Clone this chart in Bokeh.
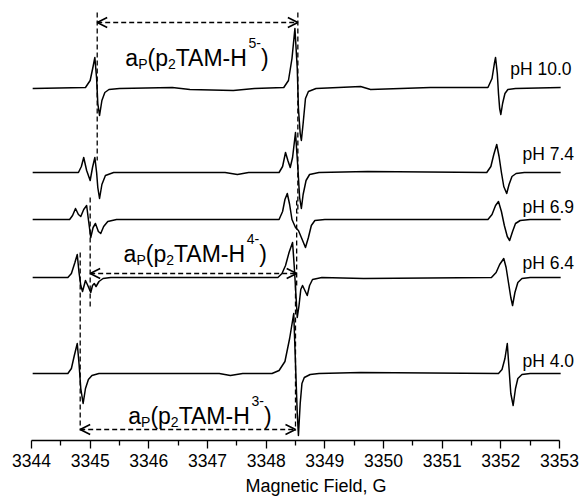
from bokeh.plotting import figure
from bokeh.models import Label, Arrow, OpenHead, Range1d, FixedTicker, Title
from bokeh.embed import file_html
from bokeh.resources import INLINE

# ---------------- data ----------------
tick_labels = ["3344", "3345", "3346", "3347", "3348", "3349", "3350", "3351", "3352", "3353"]
minor_ticks = [3344.5, 3345.5, 3346.5, 3347.5, 3348.5, 3349.5, 3350.5, 3351.5, 3352.5]
ph_labels = ["pH 10.0", "pH 7.4", "pH 6.9", "pH 6.4", "pH 4.0"]
x_title = "Magnetic Field, G"

field_ph100 = [3344.02, 3344.92, 3345.00, 3345.05, 3345.08, 3345.11, 3345.13, 3345.16, 3345.20, 3345.25, 3345.32, 3345.50,
               3346.40, 3346.70, 3347.44, 3347.80,
               3348.30, 3348.38, 3348.44, 3348.49, 3348.53, 3348.55, 3348.58, 3348.60, 3348.63, 3348.67, 3348.72, 3348.85,
               3349.61, 3349.78, 3350.80,
               3351.78, 3351.85, 3351.89, 3351.91, 3351.94, 3351.96, 3351.98, 3352.00, 3352.03, 3352.07, 3352.12, 3352.25, 3353.02]
sig_ph100 = [0, 1, 8, 22, 31, 10, -15, -27, -12, -4, -1, 0,
             1, -1, -2, 0,
             1, 8, 30, 60, 20, -20, -45, -52, -35, -10, -3, 0,
             2, -1, 1,
             1, 10, 25, 31, 15, -5, -20, -26, -15, -5, -1, 0, 1]

field_ph74 = [3344.02, 3344.80, 3344.85, 3344.89, 3344.94, 3345.00, 3345.04, 3345.08, 3345.11, 3345.13, 3345.16, 3345.20, 3345.26, 3345.40,
              3347.30, 3347.51, 3347.70,
              3348.22, 3348.28, 3348.33, 3348.37, 3348.41, 3348.45, 3348.50, 3348.54, 3348.57, 3348.60, 3348.63, 3348.68, 3348.74, 3348.90,
              3349.73,
              3351.76, 3351.83, 3351.88, 3351.93, 3351.97, 3352.01, 3352.05, 3352.10, 3352.14, 3352.19, 3352.26, 3352.40, 3353.02]
sig_ph74 = [0, 0, 6, 15, 2, -8, 5, 15, 0, -15, -26, -12, -3, 0,
            0, -2, 0,
            0, 6, 20, 12, 5, 15, 40, 5, -25, -36, -22, -8, -2, 0,
            1,
            0, 6, 18, 28, 16, 0, -14, -21, -12, -4, -1, 0, 0]

field_ph69 = [3344.02, 3344.65, 3344.70, 3344.75, 3344.80, 3344.84, 3344.89, 3344.94, 3344.97, 3345.01, 3345.05, 3345.09,
              3345.14, 3345.18, 3345.23, 3345.30, 3345.45,
              3348.22, 3348.28, 3348.32, 3348.36, 3348.40, 3348.44, 3348.50, 3348.55, 3348.60, 3348.67, 3348.72, 3348.77, 3348.83, 3349.00,
              3351.78, 3351.85, 3351.91, 3351.96, 3352.01, 3352.06, 3352.11, 3352.15, 3352.20, 3352.25, 3352.33, 3352.50, 3353.02]
sig_ph69 = [0, 0, 4, 11, 5, 3, 10, 14, 0, -18, -8, -4,
            -12, -14, -7, -2, 0,
            0, 8, 20, 26, 15, 0, -8, -11, -18, -28, -18, -6, -1, 0,
            0, 5, 14, 18, 8, -6, -17, -21, -12, -4, -1, 0, 0]

field_ph64 = [3344.02, 3344.62, 3344.68, 3344.74, 3344.78, 3344.81, 3344.84, 3344.87, 3344.92, 3344.96, 3345.01, 3345.04,
              3345.07, 3345.10, 3345.15, 3345.22, 3345.35,
              3348.20, 3348.27, 3348.33, 3348.39, 3348.45, 3348.48, 3348.51, 3348.53, 3348.56, 3348.59, 3348.62, 3348.66,
              3348.70, 3348.74, 3348.79, 3348.95,
              3349.66,
              3351.84, 3351.92, 3351.98, 3352.05, 3352.09, 3352.13, 3352.17, 3352.20, 3352.24, 3352.29, 3352.36, 3352.50, 3353.02]
sig_ph64 = [0, 0, 4, 15, 23, 5, -8, -14, -3, -8, -15, -8,
            -6, -9, -4, -1, 0,
            0, 4, 12, 25, 35, 10, -20, -40, -28, -12, -8, -13,
            -18, -8, -2, 0,
            -1,
            0, 5, 13, 19, 10, -5, -20, -28, -15, -5, -1, 0, 0]

field_ph40 = [3344.02, 3344.62, 3344.68, 3344.73, 3344.78, 3344.81, 3344.84, 3344.88, 3344.92, 3344.97, 3345.03, 3345.15,
              3347.20, 3347.39, 3347.60,
              3348.10, 3348.22, 3348.32, 3348.40, 3348.47, 3348.50, 3348.53, 3348.55, 3348.58, 3348.61, 3348.65, 3348.75, 3348.90,
              3349.61,
              3351.96, 3352.02, 3352.07, 3352.11, 3352.14, 3352.17, 3352.21, 3352.25, 3352.29, 3352.36, 3352.50, 3353.02]
sig_ph40 = [0, 0, 5, 18, 30, 10, -15, -30, -15, -6, -2, 0,
            0, -2, 0,
            0, 3, 12, 35, 60, 10, -40, -62, -30, -10, -4, -1, 0,
            1,
            0, 4, 15, 30, 5, -20, -32, -15, -5, -1, 0, 0]

# hyperfine splitting annotations
species = ["5-", "4-", "3-"]
split_left = [3345.12, 3345.00, 3344.83]
split_right = [3348.54, 3348.52, 3348.50]

# ---------------- layout / style ----------------
FONT = "Liberation Sans"
PX_PER_G = 58.667
X0 = 3344 - 31 / PX_PER_G
X1 = 3353 + 24 / PX_PER_G

p = figure(width=583, height=501, output_backend="svg", toolbar_location=None,
           x_range=Range1d(X0, X1), y_range=Range1d(0, 440),
           min_border_left=0, min_border_right=0, min_border_top=0, min_border_bottom=61)
p.outline_line_color = None
p.grid.visible = False
p.yaxis.visible = False
p.background_fill_color = "white"
p.border_fill_color = "white"

traces = [(field_ph100, sig_ph100), (field_ph74, sig_ph74), (field_ph69, sig_ph69),
          (field_ph64, sig_ph64), (field_ph40, sig_ph40)]
offsets = [352, 268, 221, 163, 67]
for (fx, sy), off in zip(traces, offsets):
    p.line(fx, [v + off for v in sy], line_color="black", line_width=1.5, line_join="round")

# pH labels
lab_pos = [(3352.16, 372), (3352.37, 287), (3352.37, 234), (3352.37, 178), (3352.37, 80)]
for t, (lx, ly) in zip(ph_labels, lab_pos):
    p.add_layout(Label(x=lx, y=ly, text=t, text_font=FONT, text_font_size="17.5px",
                       text_color="black", text_baseline="alphabetic", text_align="left"))

# dashed verticals
seg_x0 = [split_left[0], split_right[0], split_left[1], split_right[1], split_left[2], split_right[2]]
seg_y0 = [428, 428, 243, 240, 188, 155]
seg_y1 = [280, 227, 132, 155, 10, 10]
p.segment(x0=seg_x0, y0=seg_y0, x1=seg_x0, y1=seg_y1, line_color="black",
          line_width=1.3, line_dash="5 3")

# arrows
arrow_y = [418, 167, 11]
for xl, xr, ay in zip(split_left, split_right, arrow_y):
    p.add_layout(Arrow(x_start=xl, y_start=ay, x_end=xr, y_end=ay,
                       start=OpenHead(size=10, line_width=1.6, line_color="black"),
                       end=OpenHead(size=10, line_width=1.6, line_color="black"),
                       line_width=1.3, line_dash="5 3", line_color="black"))

# rich annotation text: a_P(p_2TAM-H^n)
W = {"a": .556, "P": .667, "(": .333, "p": .556, "2": .556, "T": .611, "A": .667, "M": .833,
     "-": .333, "H": .722, "5": .556, "4": .556, "3": .556, ")": .333}

def rich(x, yb, sp):
    pieces = [("a", "n"), ("P", "sub"), ("(p", "n"), ("2", "sub"), ("TAM-H", "n"), (sp, "sup"), (")", "n")]
    off = 0.0
    for txt, kind in pieces:
        size = 23 if kind == "n" else 14
        dy = 0 if kind == "n" else (-6 if kind == "sub" else 15)
        p.add_layout(Label(x=x, y=yb, x_offset=off, y_offset=dy, text=txt, text_font=FONT,
                           text_font_size=f"{size}px", text_color="black",
                           text_baseline="alphabetic", text_align="left"))
        off += sum(W[c] for c in txt) * size

text_x = [3345.60, 3345.57, 3345.65]
text_y = [383, 187, 25]
for sp, tx, ty in zip(species, text_x, text_y):
    rich(tx, ty, sp)

# x axis
ax = p.xaxis[0]
ax.ticker = FixedTicker(ticks=[float(t) for t in tick_labels], minor_ticks=minor_ticks)
ax.bounds = (float(tick_labels[0]), float(tick_labels[-1]))
ax.axis_line_width = 1.3
ax.major_tick_line_width = 1.3
ax.minor_tick_line_width = 1.3
ax.major_tick_out = 8
ax.major_tick_in = 0
ax.minor_tick_out = 5
ax.minor_tick_in = 0
ax.major_label_text_font = FONT
ax.major_label_text_font_size = "17.5px"
ax.major_label_text_color = "black"
ax.major_label_standoff = 5

# axis title below the axis, placed where the reference puts it
p.add_layout(Title(text=x_title, align="left", offset=245, text_font=FONT,
                   text_font_size="18px", text_font_style="normal", text_color="black",
                   standoff=8), "below")

open("out.html", "w").write(file_html(p, INLINE))
